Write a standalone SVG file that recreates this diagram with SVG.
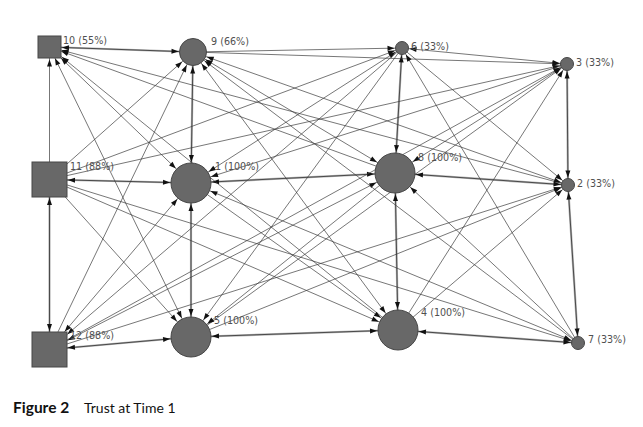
<svg xmlns="http://www.w3.org/2000/svg" width="643" height="427" viewBox="0 0 643 427">
  <style>
    .e { stroke: #3c3c3c; stroke-width: 0.7; fill: none; }
    .rb { stroke: #b4b4b4; stroke-width: 2.2; fill: none; }
    .rt { stroke: #2e2e2e; stroke-width: 0.8; fill: none; }
    .nd { fill: #686868; stroke: #474747; stroke-width: 1; }
    .lb { font-family: "DejaVu Sans", Verdana, sans-serif; font-size: 9.6px; fill: #505050; }
    .cap { font-family: Lato, "Open Sans", sans-serif; fill: #111; }
  </style>
  <defs>
    <!-- arrowheads; refX pushes the tip back to the node outline (offset = refX - 7) -->
    <marker id="mC20" markerUnits="userSpaceOnUse" markerWidth="7" markerHeight="5" refX="28" refY="2.5" orient="auto-start-reverse" overflow="visible"><path d="M0,0 L7,2.5 L0,5 z" fill="#111"/></marker>
    <marker id="mC13" markerUnits="userSpaceOnUse" markerWidth="7" markerHeight="5" refX="21.5" refY="2.5" orient="auto-start-reverse" overflow="visible"><path d="M0,0 L7,2.5 L0,5 z" fill="#111"/></marker>
    <marker id="mC6" markerUnits="userSpaceOnUse" markerWidth="7" markerHeight="5" refX="14.5" refY="2.5" orient="auto-start-reverse" overflow="visible"><path d="M0,0 L7,2.5 L0,5 z" fill="#111"/></marker>
    <marker id="mS12" markerUnits="userSpaceOnUse" markerWidth="7" markerHeight="5" refX="19.5" refY="2.5" orient="auto-start-reverse" overflow="visible"><path d="M0,0 L7,2.5 L0,5 z" fill="#111"/></marker>
    <marker id="mS16" markerUnits="userSpaceOnUse" markerWidth="7" markerHeight="5" refX="23" refY="2.5" orient="auto-start-reverse" overflow="visible"><path d="M0,0 L7,2.5 L0,5 z" fill="#111"/></marker>
    <marker id="mS19" markerUnits="userSpaceOnUse" markerWidth="7" markerHeight="5" refX="25.5" refY="2.5" orient="auto-start-reverse" overflow="visible"><path d="M0,0 L7,2.5 L0,5 z" fill="#111"/></marker>
    <marker id="mS21" markerUnits="userSpaceOnUse" markerWidth="7" markerHeight="5" refX="27.5" refY="2.5" orient="auto-start-reverse" overflow="visible"><path d="M0,0 L7,2.5 L0,5 z" fill="#111"/></marker>
    <marker id="mS24" markerUnits="userSpaceOnUse" markerWidth="7" markerHeight="5" refX="30.5" refY="2.5" orient="auto-start-reverse" overflow="visible"><path d="M0,0 L7,2.5 L0,5 z" fill="#111"/></marker>
  </defs>
  <rect width="643" height="427" fill="#fff"/>

  <g id="connectors">
    <!-- reciprocal ties: grey band under a dark line -->
    <g class="rb">
      <line x1="49.5" y1="47" x2="193" y2="52"/>
      <line x1="49.5" y1="179.5" x2="49.5" y2="349.5"/>
      <line x1="49.5" y1="179.5" x2="191" y2="183"/>
      <line x1="193" y1="52" x2="191" y2="183"/>
      <line x1="191" y1="183" x2="191" y2="337"/>
      <line x1="191" y1="183" x2="395" y2="173"/>
      <line x1="49.5" y1="349.5" x2="191" y2="337"/>
      <line x1="191" y1="337" x2="398" y2="330"/>
      <line x1="402" y1="48" x2="395" y2="173"/>
      <line x1="395" y1="173" x2="398" y2="330"/>
      <line x1="395" y1="173" x2="568" y2="185"/>
      <line x1="567" y1="64" x2="568" y2="185"/>
      <line x1="568" y1="185" x2="578" y2="343"/>
      <line x1="398" y1="330" x2="578" y2="343"/>
    </g>
    <g class="rt">
      <line x1="49.5" y1="47" x2="193" y2="52" marker-start="url(#mS12)" marker-end="url(#mC13)"/>
      <line x1="49.5" y1="179.5" x2="49.5" y2="349.5" marker-start="url(#mS19)" marker-end="url(#mS19)"/>
      <line x1="49.5" y1="179.5" x2="191" y2="183" marker-start="url(#mS19)" marker-end="url(#mC20)"/>
      <line x1="193" y1="52" x2="191" y2="183" marker-start="url(#mC13)" marker-end="url(#mC20)"/>
      <line x1="191" y1="183" x2="191" y2="337" marker-start="url(#mC20)" marker-end="url(#mC20)"/>
      <line x1="191" y1="183" x2="395" y2="173" marker-start="url(#mC20)" marker-end="url(#mC20)"/>
      <line x1="49.5" y1="349.5" x2="191" y2="337" marker-start="url(#mS19)" marker-end="url(#mC20)"/>
      <line x1="191" y1="337" x2="398" y2="330" marker-start="url(#mC20)" marker-end="url(#mC20)"/>
      <line x1="402" y1="48" x2="395" y2="173" marker-start="url(#mC6)" marker-end="url(#mC20)"/>
      <line x1="395" y1="173" x2="398" y2="330" marker-start="url(#mC20)" marker-end="url(#mC20)"/>
      <line x1="395" y1="173" x2="568" y2="185" marker-start="url(#mC20)" marker-end="url(#mC6)"/>
      <line x1="567" y1="64" x2="568" y2="185" marker-start="url(#mC6)" marker-end="url(#mC6)"/>
      <line x1="568" y1="185" x2="578" y2="343" marker-start="url(#mC6)" marker-end="url(#mC6)"/>
      <line x1="398" y1="330" x2="578" y2="343" marker-start="url(#mC20)" marker-end="url(#mC6)"/>
    </g>
    <!-- single ties -->
    <g class="e">
      <line x1="49.5" y1="179.5" x2="49.5" y2="47" marker-end="url(#mS12)"/>
      <line x1="193" y1="52" x2="402" y2="48" marker-end="url(#mC6)"/>
      <line x1="402" y1="48" x2="567" y2="64" marker-start="url(#mC6)" marker-end="url(#mC6)"/>
      <line x1="193" y1="52" x2="567" y2="64" marker-end="url(#mC6)"/>
      <line x1="49.5" y1="47" x2="191" y2="183" marker-start="url(#mS16)" marker-end="url(#mC20)"/>
      <line x1="49.5" y1="47" x2="191" y2="337" marker-start="url(#mS12)" marker-end="url(#mC20)"/>
      <line x1="398" y1="330" x2="49.5" y2="47" marker-end="url(#mS16)"/>
      <line x1="395" y1="173" x2="49.5" y2="47" marker-end="url(#mS12)"/>
      <line x1="568" y1="185" x2="49.5" y2="47" marker-end="url(#mS12)"/>
      <line x1="49.5" y1="179.5" x2="193" y2="52" marker-end="url(#mC13)"/>
      <line x1="49.5" y1="179.5" x2="191" y2="337" marker-end="url(#mC20)"/>
      <line x1="49.5" y1="179.5" x2="398" y2="330" marker-end="url(#mC20)"/>
      <line x1="49.5" y1="179.5" x2="578" y2="343" marker-end="url(#mC6)"/>
      <line x1="49.5" y1="179.5" x2="567" y2="64" marker-end="url(#mC6)"/>
      <line x1="49.5" y1="179.5" x2="402" y2="48" marker-end="url(#mC6)"/>
      <line x1="49.5" y1="349.5" x2="193" y2="52" marker-end="url(#mC13)"/>
      <line x1="49.5" y1="349.5" x2="191" y2="183" marker-start="url(#mS24)" marker-end="url(#mC20)"/>
      <line x1="49.5" y1="349.5" x2="395" y2="173" marker-start="url(#mS21)" marker-end="url(#mC20)"/>
      <line x1="402" y1="48" x2="49.5" y2="349.5" marker-end="url(#mS24)"/>
      <line x1="49.5" y1="349.5" x2="567" y2="64" marker-end="url(#mC6)"/>
      <line x1="49.5" y1="349.5" x2="568" y2="185" marker-end="url(#mC6)"/>
      <line x1="193" y1="52" x2="395" y2="173" marker-start="url(#mC13)" marker-end="url(#mC20)"/>
      <line x1="193" y1="52" x2="568" y2="185" marker-start="url(#mC13)" marker-end="url(#mC6)"/>
      <line x1="193" y1="52" x2="398" y2="330" marker-start="url(#mC13)" marker-end="url(#mC20)"/>
      <line x1="578" y1="343" x2="193" y2="52" marker-end="url(#mC13)"/>
      <line x1="402" y1="48" x2="191" y2="183" marker-start="url(#mC6)" marker-end="url(#mC20)"/>
      <line x1="402" y1="48" x2="191" y2="337" marker-end="url(#mC20)"/>
      <line x1="402" y1="48" x2="568" y2="185" marker-end="url(#mC6)"/>
      <line x1="578" y1="343" x2="402" y2="48" marker-end="url(#mC6)"/>
      <line x1="567" y1="64" x2="191" y2="183" marker-end="url(#mC20)"/>
      <line x1="567" y1="64" x2="395" y2="173" marker-end="url(#mC20)"/>
      <line x1="191" y1="337" x2="567" y2="64" marker-end="url(#mC6)"/>
      <line x1="398" y1="330" x2="567" y2="64" marker-end="url(#mC6)"/>
      <line x1="191" y1="183" x2="398" y2="330" marker-end="url(#mC20)"/>
      <line x1="191" y1="183" x2="578" y2="343" marker-start="url(#mC20)" marker-end="url(#mC6)"/>
      <line x1="578" y1="343" x2="395" y2="173" marker-end="url(#mC20)"/>
      <line x1="395" y1="173" x2="191" y2="337" marker-end="url(#mC20)"/>
      <line x1="191" y1="337" x2="568" y2="185" marker-end="url(#mC6)"/>
      <line x1="398" y1="330" x2="568" y2="185" marker-end="url(#mC6)"/>
    </g>
  </g>

  <g id="n10"><rect class="nd" x="38" y="36" width="23" height="22"/><text class="lb" x="63" y="44">10 (55%)</text></g>
  <g id="n9"><circle class="nd" cx="193" cy="52" r="13.5"/><text class="lb" x="211" y="45">9 (66%)</text></g>
  <g id="n6"><circle class="nd" cx="402" cy="48" r="6.5"/><text class="lb" x="411" y="50">6 (33%)</text></g>
  <g id="n3"><circle class="nd" cx="567" cy="64" r="6.5"/><text class="lb" x="576" y="66">3 (33%)</text></g>
  <g id="n11"><rect class="nd" x="32" y="162" width="35" height="35"/><text class="lb" x="70" y="170">11 (88%)</text></g>
  <g id="n1"><circle class="nd" cx="191" cy="183" r="20"/><text class="lb" x="215" y="170">1 (100%)</text></g>
  <g id="n8"><circle class="nd" cx="395" cy="173" r="20"/><text class="lb" x="418" y="161">8 (100%)</text></g>
  <g id="n2"><circle class="nd" cx="568" cy="185" r="6.5"/><text class="lb" x="577" y="187">2 (33%)</text></g>
  <g id="n12"><rect class="nd" x="32" y="332" width="35" height="35"/><text class="lb" x="70" y="339">12 (88%)</text></g>
  <g id="n5"><circle class="nd" cx="191" cy="337" r="20"/><text class="lb" x="214" y="324">5 (100%)</text></g>
  <g id="n4"><circle class="nd" cx="398" cy="330" r="20"/><text class="lb" x="421" y="316">4 (100%)</text></g>
  <g id="n7"><circle class="nd" cx="578" cy="343" r="6.5"/><text class="lb" x="588" y="343">7 (33%)</text></g>

  <g id="caption">
    <text class="cap" x="13" y="413" font-size="15.5" font-weight="bold">Figure 2</text>
    <text class="cap" x="84" y="413" font-size="14">Trust at Time 1</text>
  </g>
</svg>
